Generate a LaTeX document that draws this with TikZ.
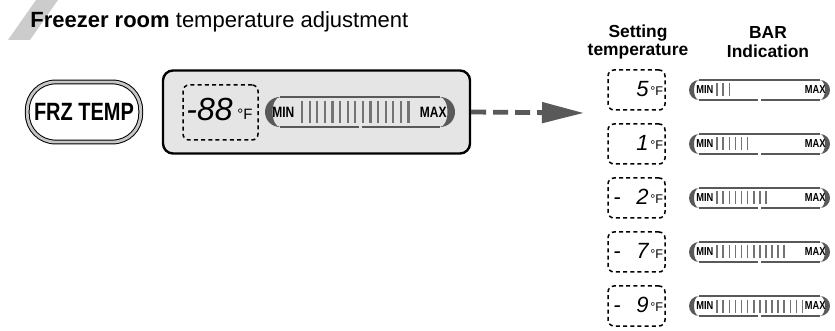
\documentclass[tikz,border=0pt]{standalone}
\usepackage{fontspec}
\setmainfont{Liberation Sans}
\newfontfamily\condfont[FakeStretch=0.8]{Liberation Sans}
\usetikzlibrary{arrows.meta}
\definecolor{panelgray}{gray}{0.9}
\definecolor{bardark}{gray}{0.35}
\definecolor{tickgray}{gray}{0.45}
\definecolor{stripegray}{gray}{0.8}
\tikzset{
  setbox/.style={draw, dash pattern=on 2pt off 1.6pt, line width=0.75pt, rounded corners=3pt, inner sep=0pt},
  lcd/.style={inner sep=0pt, font=\itshape\fontsize{11}{12}\selectfont},
  degF/.style={inner sep=0pt, font=\fontsize{6.3}{7}\selectfont},
  minmax/.style={inner sep=0pt, font=\condfont\bfseries\fontsize{7.5}{8}\selectfont},
  smallminmax/.style={inner sep=0pt, font=\condfont\bfseries\fontsize{5.8}{6}\selectfont},
  header/.style={inner sep=0pt, align=center, font=\bfseries\fontsize{8.7}{9.4}\selectfont},
  bigtick/.style={tickgray, line width=1.1pt},
  smalltick/.style={tickgray, line width=0.8pt},
  flowarrow/.style={bardark, line width=2.4pt, dash pattern=on 7.5pt off 3.5pt, -{Triangle[length=21pt,width=10pt]}}
}
% LCD bar: left x, right x, centre y, half height
\newcommand{\pillbar}[4]{%
  \fill[bardark] ({#1+#4},{#3+#4}) arc[start angle=90,end angle=270,radius=#4]
    arc[start angle=270,end angle=90,x radius={0.5*#4},y radius=#4] -- cycle;
  \fill[bardark] ({#2-#4},{#3-#4}) arc[start angle=270,end angle=450,radius=#4]
    arc[start angle=90,end angle=-90,x radius={0.5*#4},y radius=#4] -- cycle;
  \draw[bardark, line width=0.8pt] ({#1+#4},{#3-#4}) -- ({#2-#4},{#3-#4});
  \draw[bardark, line width=0.8pt] ({#1+#4},{#3+#4}) -- ({(#1+#2)/2-1.5},{#3+#4})
    ({(#1+#2)/2+1.5},{#3+#4}) -- ({#2-#4},{#3+#4});
}
\begin{document}
\begin{tikzpicture}[x=0.5pt,y=-0.5pt]
\useasboundingbox (0,0) rectangle (835,331);
% title
\fill[stripegray] (8,40) -- (30,40) -- (58,0) -- (36,0) -- cycle;
\node[inner sep=0pt, anchor=base west, font=\fontsize{11}{13}\selectfont] (title) at (30,28) {\textbf{Freezer room} temperature adjustment};
% key
\node[draw=black, fill=white, line width=0.5pt, double=gray!45, double distance=1.4pt,
  rounded corners=14pt, minimum width=55.5pt, minimum height=30pt,
  font=\condfont\bfseries\fontsize{12.5}{14}\selectfont] (frz) at (84,112) {FRZ TEMP};
% display
\node[draw, line width=1.2pt, fill=panelgray, rounded corners=5pt, minimum width=153.5pt, minimum height=41.5pt] (panel) at (316.5,112) {};
\node[setbox, minimum width=37.5pt, minimum height=27.5pt] (tempbox) at (220.5,112.5) {};
\node[lcd, anchor=base west, font=\itshape\fontsize{16}{18}\selectfont] (lcdnum) at (186,121) {-88};
\node[degF, anchor=base west, font=\fontsize{7.5}{8}\selectfont] (lcdunit) at (237,120) {°F};
\pillbar{265}{455}{112}{15}
\foreach \i in {0,...,14}
  \draw[bigtick] ({302+7.6*\i},101) -- ({302+7.6*\i},123);
\node[minmax, anchor=west] (bigmin) at (272,112) {MIN};
\node[minmax, anchor=east] (bigmax) at (447,112) {MAX};
% arrow
\coordinate (arrowend) at (584,113);
\draw[flowarrow] (panel.east) -- (arrowend);
% headers
\node[header] (sethead) at (638,42) {Setting\\temperature};
\node[header] (barhead) at (768,42) {BAR\\Indication};
% rows
\foreach \cy/\sgn/\dig/\n in {90//5/3, 144//1/6, 198/-/2/9, 252/-/7/12, 306/-/9/15}{
  \node[setbox, minimum width=28.5pt, minimum height=20pt] (set\dig) at (636.5,\cy) {};
  \node[lcd, anchor=base west] (sign\dig) at (613,{\cy+7}) {\sgn};
  \node[lcd, anchor=base east] (num\dig) at (649,{\cy+7}) {\dig};
  \node[degF, anchor=base west] (unit\dig) at (650,{\cy+6}) {°F};
  \pillbar{689}{830}{\cy}{10}
  \foreach \i in {1,...,\n}
    \draw[smalltick] ({711+6.1*\i},{\cy-6.5}) -- ({711+6.1*\i},{\cy+6.5});
  \node[smallminmax, anchor=west] (min\dig) at (696,\cy) {MIN};
  \node[smallminmax, anchor=east] (max\dig) at (826,\cy) {MAX};
}
\end{tikzpicture}
\end{document}
